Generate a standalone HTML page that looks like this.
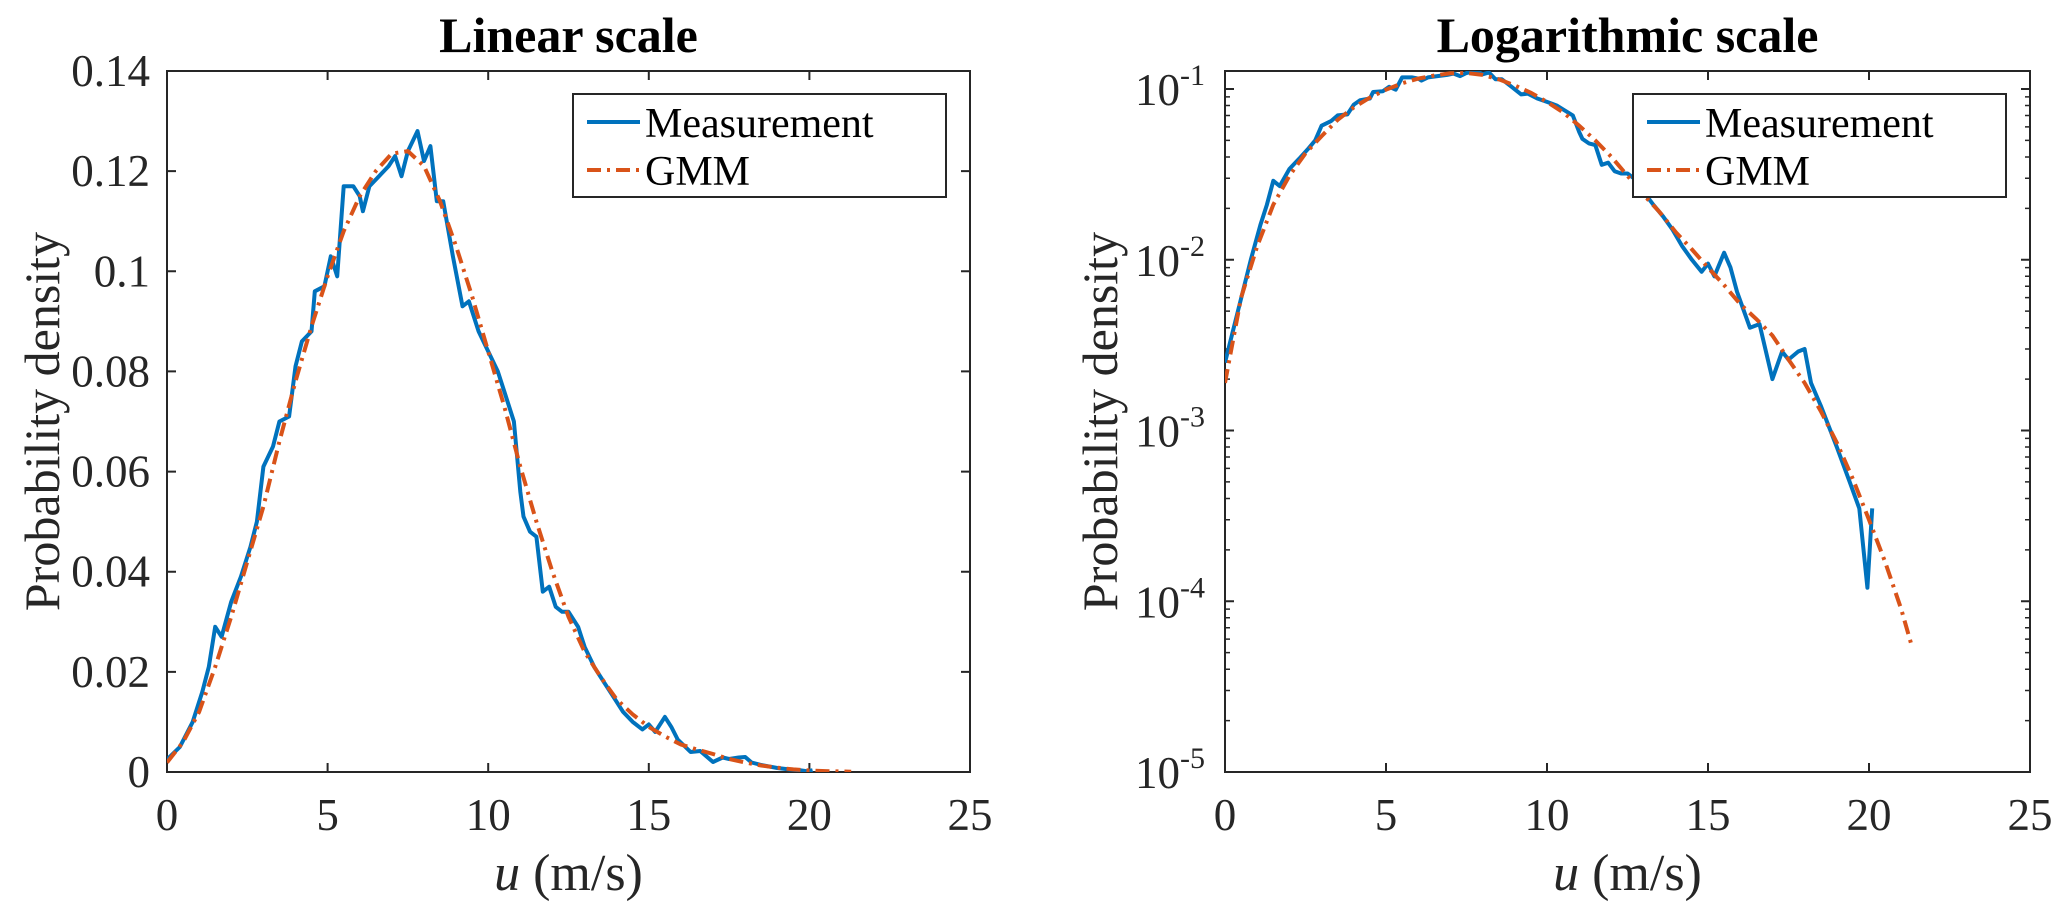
<!DOCTYPE html>
<html><head><meta charset="utf-8"><style>
html,body{margin:0;padding:0;background:#fff;}
svg{display:block;font-family:"Liberation Serif",serif;}
</style></head><body>
<svg id="fig" width="2067" height="918" viewBox="0 0 2067 918" xmlns="http://www.w3.org/2000/svg">
<g id="L"></g>
<g id="R"></g>
</svg>
<script>
const measX=[0,0.4,0.8,1.1,1.3,1.5,1.7,2.0,2.3,2.6,2.8,3.0,3.3,3.5,3.8,4.0,4.2,4.5,4.6,4.9,5.1,5.3,5.5,5.8,6.0,6.1,6.3,6.6,6.9,7.1,7.3,7.5,7.8,8.0,8.2,8.4,8.6,8.9,9.2,9.4,9.7,10.0,10.3,10.5,10.8,11.0,11.1,11.3,11.5,11.7,11.9,12.1,12.3,12.5,12.8,13.0,13.3,13.6,13.9,14.2,14.5,14.8,15.0,15.2,15.5,15.7,15.9,16.3,16.6,17.0,17.3,17.5,17.8,18.0,18.2,18.5,19.0,19.4,19.7,19.95,20.1];
const measY=[0.0025,0.005,0.01,0.016,0.021,0.029,0.027,0.034,0.039,0.045,0.05,0.061,0.065,0.07,0.071,0.081,0.086,0.088,0.096,0.097,0.103,0.099,0.117,0.117,0.115,0.112,0.117,0.119,0.121,0.123,0.119,0.124,0.128,0.122,0.125,0.114,0.114,0.103,0.093,0.094,0.088,0.084,0.080,0.076,0.07,0.056,0.051,0.048,0.047,0.036,0.037,0.033,0.032,0.032,0.029,0.025,0.021,0.018,0.015,0.012,0.010,0.0085,0.0095,0.008,0.011,0.009,0.0065,0.004,0.0042,0.002,0.0029,0.0026,0.0029,0.003,0.0019,0.0014,0.0008,0.0005,0.00035,0.00012,0.00035];
const gmmX=[0,0.5,1,1.5,2,2.5,3,3.5,4,4.5,5,5.5,6,6.5,7,7.5,8,8.5,9,9.5,10,10.5,11,11.5,12,12.5,13,13.5,14,14.5,15,15.5,16,16.5,17,17.5,18,18.5,19,19.5,20,20.5,21,21.3];
const gmmY=[0.0019,0.006,0.012,0.021,0.031,0.042,0.053,0.066,0.078,0.089,0.099,0.108,0.115,0.120,0.1235,0.124,0.121,0.114,0.105,0.095,0.084,0.073,0.061,0.050,0.040,0.031,0.024,0.019,0.0145,0.0115,0.009,0.0071,0.0055,0.0045,0.0036,0.0026,0.0019,0.0013,0.00085,0.00052,0.0003,0.00017,0.00009,0.000057];
const xTicks=[0,5,10,15,20,25];
const linTicks=[0,0.02,0.04,0.06,0.08,0.1,0.12,0.14];
const linTickLabels=["0","0.02","0.04","0.06","0.08","0.1","0.12","0.14"];
const logExps=[-5,-4,-3,-2,-1];

const NS="http://www.w3.org/2000/svg";
function mk(p,tag,attrs,txt){const e=document.createElementNS(NS,tag);for(const k in attrs)e.setAttribute(k,attrs[k]);if(txt!=null)e.textContent=txt;p.appendChild(e);return e;}
const T=71,B=772;
function panel(g,x0,x1,ys,isLog,title){
  const xs=v=>x0+(v/25)*(x1-x0);
  let f=mk(g,'rect',{x:x0,y:T,width:x1-x0,height:B-T,fill:'none',stroke:'#262626','stroke-width':2});
  
  
  xTicks.forEach(v=>{
    const x=xs(v);
    let t=mk(g,'path',{d:`M${x} ${B}v-9M${x} ${T}v9`,stroke:'#262626','stroke-width':2});
    
    
    let l=mk(g,'text',{x:x,y:830,'text-anchor':'middle','font-size':45,fill:'#262626'},String(v));
    
    
  });
  if(!isLog){
    linTicks.forEach((v,i)=>{
      const y=ys(v);
      let t=mk(g,'path',{d:`M${x0} ${y}h9M${x1} ${y}h-9`,stroke:'#262626','stroke-width':2});
      
      
      let l=mk(g,'text',{x:x0-17,y:y+15,'text-anchor':'end','font-size':45,fill:'#262626'},linTickLabels[i]);
      
      
    });
  } else {
    logExps.forEach(e=>{
      const y=ys(Math.pow(10,e));
      let t=mk(g,'path',{d:`M${x0} ${y}h9M${x1} ${y}h-9`,stroke:'#262626','stroke-width':2});
      
      
      let l=mk(g,'text',{x:x0-20,y:y+16,'text-anchor':'end','font-size':45,fill:'#262626'});
      
      
      mk(l,'tspan',{},'10');
      mk(l,'tspan',{dy:-20,'font-size':30},String(e));
      if(e<-1){for(let m=2;m<=9;m++){const ym=ys(m*Math.pow(10,e));
        let mt=mk(g,'path',{d:`M${x0} ${ym}h5M${x1} ${ym}h-5`,stroke:'#262626','stroke-width':1.5});
        
        }}
    });
  }
  const clipId='c'+x0;
  const cp=mk(g,'clipPath',{id:clipId});mk(cp,'rect',{x:x0,y:T,width:x1-x0,height:B-T});
  let d1=measX.map((v,i)=>(i?'L':'M')+xs(v).toFixed(1)+' '+ys(measY[i]).toFixed(1)).join('');
  let p1=mk(g,'path',{d:d1,fill:'none',stroke:'#0072BD','stroke-width':4,'stroke-linejoin':'round','clip-path':`url(#${clipId})`});
  
  
  let d2=gmmX.map((v,i)=>(i?'L':'M')+xs(v).toFixed(1)+' '+ys(gmmY[i]).toFixed(1)).join('');
  let p2=mk(g,'path',{d:d2,fill:'none',stroke:'#D95319','stroke-width':4,'stroke-dasharray':'14 6 3 6','clip-path':`url(#${clipId})`});
  
  
  let tt=mk(g,'text',{x:(x0+x1)/2,y:52,'text-anchor':'middle','font-size':50,'font-weight':'bold',fill:'#000'},title);
  
  
  let xl=mk(g,'text',{x:(x0+x1)/2,y:890,'text-anchor':'middle','font-size':52,fill:'#262626'});
  
  
  mk(xl,'tspan',{'font-style':'italic'},'u');mk(xl,'tspan',{},' (m/s)');
  const yc=(T+B)/2, yx=x0-108;
  let yl=mk(g,'text',{x:yx,y:yc,'text-anchor':'middle','font-size':50,fill:'#262626',transform:`rotate(-90 ${yx} ${yc})`},'Probability density');
  
  
  const lx=x1-397, lw=373;
  let lg=mk(g,'g',{});
  
  
  mk(lg,'rect',{x:lx,y:94,width:lw,height:103,fill:'#fff',stroke:'#262626','stroke-width':2});
  let e1=mk(lg,'g',{});
  
  
  mk(e1,'line',{x1:lx+14,x2:lx+67,y1:122,y2:122,stroke:'#0072BD','stroke-width':4});
  mk(e1,'text',{x:lx+72,y:137,'font-size':42,fill:'#000'},'Measurement');
  let e2=mk(lg,'g',{});
  
  
  mk(e2,'line',{x1:lx+14,x2:lx+67,y1:170,y2:170,stroke:'#D95319','stroke-width':4,'stroke-dasharray':'14 6 3 6'});
  mk(e2,'text',{x:lx+72,y:185,'font-size':42,fill:'#000'},'GMM');
}
const ysLin=v=>B-(v/0.14)*(B-T);
const ysLog=v=>B-((Math.log10(Math.max(v,1e-6))+5)/4)*(B-89);
panel(document.getElementById('L'),167,970,ysLin,false,'Linear scale');
panel(document.getElementById('R'),1225,2030,ysLog,true,'Logarithmic scale');
</script>
</body></html>
